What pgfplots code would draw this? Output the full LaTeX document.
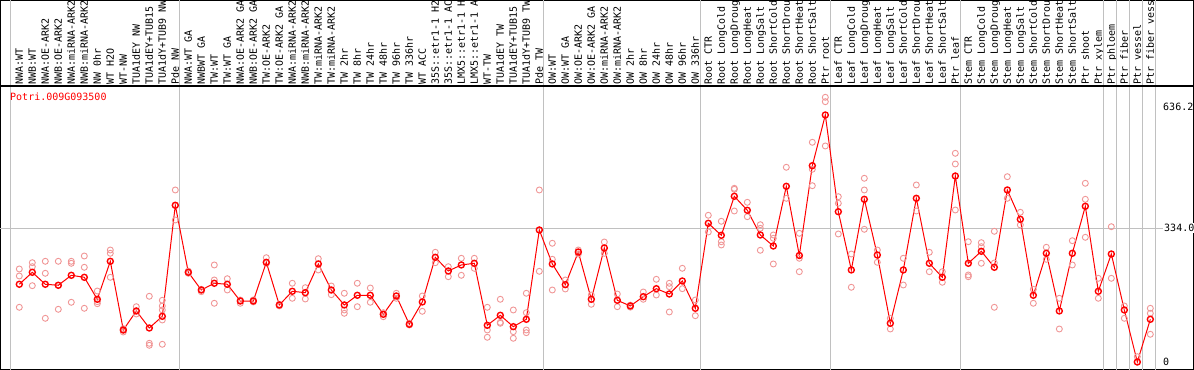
\documentclass[border=0pt]{standalone}
\usepackage{fontspec}
\usepackage{pgfplots}
\pgfplotsset{compat=1.18}
\newfontfamily\mono{DejaVu Sans Mono}
\newcommand\lab{\mono\fontsize{10}{12}\selectfont}
\definecolor{repred}{RGB}{240,150,150}
\definecolor{sepgray}{RGB}{192,192,192}
\begin{document}
\begin{tikzpicture}
\begin{axis}[
  scale only axis,
  width=1194pt, height=370pt,
  xmin=-1.485, xmax=90.36,
  ymin=-20, ymax=904.1,
  axis line style={line width=2pt},
  major tick length=0pt,
  xtick={0,...,87},
  xticklabels={NWA:WT,NWB:WT,NWA:OE-ARK2,NWB:OE-ARK2,NWA:miRNA-ARK2,NWB:miRNA-ARK2,NW 0hr,WT H2O,WT-NW,TUA1dEY NW,TUA1dEY+TUB15,TUA1dY+TUB9 NW,Pde NW,
    NWA:WT GA,NWBWT GA,TW:WT,TW:WT GA,NWA:OE-ARK2 GA,NWB:OE-ARK2 GA,TW:OE-ARK2,TW:OE-ARK2 GA,NWA:miRNA-ARK2,NWB:miRNA-ARK2,TW:miRNA-ARK2,TW:miRNA-ARK2,TW 2hr,TW 8hr,TW 24hr,TW 48hr,TW 96hr,TW 336hr,WT ACC,35S::etr1-1 H2,35S::etr1-1 AC,LMX5::etr1-1 H,LMX5::etr1-1 A,WT-TW,TUA1dEY TW,TUA1dEY+TUB15,TUA1dY+TUB9 TW,Pde TW,
    OW:WT,OW:WT GA,OW:OE-ARK2,OW:OE-ARK2 GA,OW:miRNA-ARK2,OW:miRNA-ARK2,OW 2hr,OW 8hr,OW 24hr,OW 48hr,OW 96hr,OW 336hr,
    Root CTR,Root LongCold,Root LongDroug,Root LongHeat,Root LongSalt,Root ShortCold,Root ShortDrou,Root ShortHeat,Root ShortSalt,Ptr root,
    Leaf CTR,Leaf LongCold,Leaf LongDroug,Leaf LongHeat,Leaf LongSalt,Leaf ShortCold,Leaf ShortDrou,Leaf ShortHeat,Leaf ShortSalt,Ptr leaf,
    Stem CTR,Stem LongCold,Stem LongDroug,Stem LongHeat,Stem LongSalt,Stem ShortCold,Stem ShortDrou,Stem ShortHeat,Stem ShortSalt,Ptr shoot,
    Ptr xylem,Ptr phloem,Ptr fiber,Ptr vessel,Ptr fiber vess},
  xticklabel pos=upper,
  xticklabel style={font=\lab, inner sep=0pt, text height=7.3pt, text depth=0pt, yshift=-84.6pt, rotate=90, anchor=west},
  ytick={0,636.2},
  yticklabels={0,636.2},
  yticklabel pos=right,
  yticklabel style={font=\lab, anchor=west, inner sep=0pt, xshift=-31pt},
  extra y ticks={334},
  extra y tick labels={334.0},
  extra y tick style={grid=major, major grid style={sepgray, line width=1pt}, yticklabel style={fill=white, inner sep=1pt}},
  extra x ticks={-0.64,12.36,40.36,52.36,62.36,72.36,83.36,84.36,85.36,86.36,87.36},
  extra x tick labels={},
  extra x tick style={grid=major, major grid style={sepgray, line width=1pt}},
]
\coordinate (bl) at (rel axis cs:0,0);
\coordinate (tr) at (rel axis cs:1,1);
\draw[line width=1.2pt] (axis cs:-1.485,689.3) -- (axis cs:90.36,689.3);
\node[anchor=west, text=red, font=\lab, inner sep=0pt] at (axis cs:-0.715,661.8) {Potri.009G093500};
\addplot[only marks, mark=o, mark size=3pt, repred, mark options={line width=0.9pt}] table {
x y
0 232.3
0 214.8
0 136.6
1 248.0
1 238.0
1 190.6
2 251.5
2 221.5
2 109.1
3 251.5
3 191.6
3 131.6
4 251.5
4 246.5
4 149.1
5 264.7
5 236.5
5 134.1
6 177.3
6 150.6
6 145.6
7 279.7
7 271.5
7 211.5
8 83.2
8 74.9
8 79.9
9 138.1
9 119.9
9 127.4
10 164.1
10 46.7
10 41.7
11 154.1
11 139.9
11 129.9
11 104.9
11 44.2
12 429.6
12 354.6
12 391.4
13 225.5
13 221.5
13 227.0
14 181.6
14 175.6
15 242.3
15 204.8
15 146.6
16 208.0
16 179.8
17 146.6
17 154.8
18 150.0
18 155.0
19 260.5
19 246.5
20 140.0
20 144.0
21 196.6
21 159.1
22 185.6
22 157.3
23 258.0
23 229.8
24 189.8
24 168.1
25 171.6
25 129.9
25 121.6
26 196.6
26 138.1
27 184.8
27 149.1
28 123.1
28 113.1
29 171.6
29 159.1
30 96.7
30 92.4
31 164.8
31 126.6
32 274.0
32 248.0
33 238.0
33 213.0
34 259.0
34 216.5
35 259.0
35 234.0
36 136.6
36 79.9
36 61.7
37 156.6
37 96.7
37 99.0
38 129.9
38 75.7
38 59.2
39 171.6
39 123.1
39 79.9
39 73.2
40 429.6
40 226.5
41 296.5
41 256.5
41 179.8
42 204.8
42 182.3
43 279.7
43 269.7
44 167.3
44 144.1
45 299.7
45 271.5
46 169.8
46 138.1
47 137.0
47 142.0
48 174.8
48 156.6
49 206.5
49 167.3
50 196.6
50 188.1
50 124.9
51 234.0
51 183.1
52 154.8
52 115.6
53 366.4
53 324.7
54 351.4
54 300.4
54 292.2
55 433.8
55 431.3
55 377.1
56 398.8
56 362.9
57 342.9
57 333.9
57 279.0
58 317.2
58 308.9
58 244.8
59 486.3
59 408.8
60 321.4
60 259.0
60 225.5
61 548.7
61 481.3
61 440.3
62 661.1
62 650.1
62 539.5
63 412.8
63 396.4
63 319.7
64 269.7
64 186.6
65 458.8
65 429.6
65 331.4
66 279.7
66 249.0
67 109.1
67 82.4
68 259.0
68 192.3
69 442.1
69 377.1
70 274.0
70 225.5
71 225.5
71 199.1
72 521.2
72 494.5
72 379.6
73 300.4
73 217.3
73 213.0
74 298.0
74 288.0
74 246.5
75 326.4
75 136.6
75 247.3
76 462.8
76 408.8
77 373.9
77 342.2
78 181.6
78 146.6
79 286.5
79 256.5
80 159.1
80 82.4
81 302.9
81 242.3
82 446.3
82 406.3
82 311.4
83 209.0
83 159.1
84 337.9
84 209.0
85 139.9
85 109.1
86 13.2
86 0.0
87 134.1
87 121.6
87 69.2
};
\addplot[red, line width=1pt, mark=o, mark size=3pt, mark options={line width=1.4pt}] table {
x y
0 194.1
1 224.0
2 194.1
3 191.6
4 216.5
5 211.5
6 156.6
7 251.5
8 79.9
9 127.4
10 84.9
11 114.1
12 391.4
13 224.0
14 179.8
15 196.6
16 194.1
17 152.3
18 152.3
19 249.0
20 142.4
21 176.6
22 173.1
23 244.8
24 179.8
25 142.4
26 166.6
27 166.6
28 119.1
29 164.8
30 94.2
31 149.9
32 261.5
33 227.3
34 242.3
35 246.5
36 91.7
37 116.6
38 88.2
39 106.6
40 329.7
41 244.8
42 193.1
43 274.7
44 156.6
45 284.7
46 154.1
47 139.9
48 163.1
49 183.1
50 169.8
51 202.3
52 134.1
53 346.4
54 316.4
55 413.8
56 378.9
57 317.2
58 289.7
59 438.8
60 266.0
61 490.3
62 616.9
63 375.4
64 229.8
65 406.3
66 267.2
67 96.7
68 229.8
69 408.8
70 246.5
71 211.5
72 464.5
73 246.5
74 276.5
75 236.5
76 429.6
77 356.4
78 166.6
79 271.5
80 127.4
81 271.5
82 388.9
83 176.6
84 269.7
85 129.9
86 0.0
87 106.6
};
\end{axis}
\pgfresetboundingbox
\useasboundingbox (bl) rectangle (tr);
\end{tikzpicture}
\end{document}
